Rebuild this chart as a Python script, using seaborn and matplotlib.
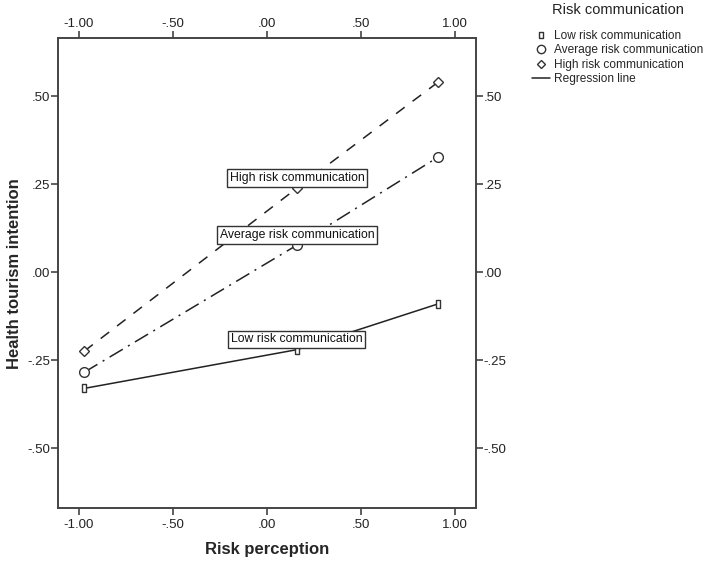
import matplotlib
matplotlib.use("Agg")
import matplotlib.pyplot as plt
import seaborn as sns
import pandas as pd
from matplotlib.lines import Line2D

sns.set_style("white")
plt.rcParams['font.family'] = ['Liberation Sans', 'DejaVu Sans']

risk_perception = [-0.97, 0.16, 0.91]
low_rc = [-0.33, -0.22, -0.09]
avg_rc = [-0.284, 0.077, 0.327]
high_rc = [-0.224, 0.239, 0.54]
series_names = ["Low risk communication", "Average risk communication", "High risk communication"]
tick_values = [-1.0, -0.5, 0.0, 0.5, 1.0]
tick_labels = ["-1.00", "-.50", ".00", ".50", "1.00"]
ytick_values = [-0.5, -0.25, 0.0, 0.25, 0.5]
ytick_labels = ["-.50", "-.25", ".00", ".25", ".50"]

rows = []
for name, vals in zip(series_names, [low_rc, avg_rc, high_rc]):
    for x, y in zip(risk_perception, vals):
        rows.append({"x": x, "y": y, "series": name})
df = pd.DataFrame(rows)

fig = plt.figure(figsize=(7.09, 5.62), dpi=100)
ax = fig.add_axes([0.0818, 0.096, 0.589, 0.836])

rect = [(-0.6, -1), (0.6, -1), (0.6, 1), (-0.6, 1), (-0.6, -1)]
styles = {
    "Low risk communication": dict(ls="-", marker=rect, ms=5.5),
    "Average risk communication": dict(ls=(0, (10, 4, 1.3, 4)), marker="o", ms=7),
    "High risk communication": dict(ls=(0, (7, 6.5)), marker="D", ms=5),
}
lc = "#222222"
for name in series_names:
    sub = df[df.series == name]
    st = styles[name]
    sns.lineplot(data=sub, x="x", y="y", ax=ax, color=lc, lw=1.1,
                 linestyle=st["ls"], marker=st["marker"], markersize=st["ms"],
                 markerfacecolor="white", markeredgecolor="#333333", markeredgewidth=1.0,
                 legend=False)

for name, vals in zip(series_names, [low_rc, avg_rc, high_rc]):
    ax.text(risk_perception[1], vals[1] + 0.029, name, ha="center", va="center",
            fontsize=8.8, color="#111111", zorder=5,
            bbox=dict(boxstyle="square,pad=0.22", fc="white", ec="#333333", lw=1.0))

ax.set_xlim(-1.11, 1.11)
ax.set_ylim(-0.67, 0.665)
ax.set_xticks(tick_values)
ax.set_xticklabels(tick_labels)
ax.set_yticks(ytick_values)
ax.set_yticklabels(ytick_labels)
common = dict(direction="out", length=5, width=1.2, color="#444444",
              labelsize=9.5, labelcolor="#222222")
ax.tick_params(axis="x", pad=3.0, bottom=True, **common)
ax.tick_params(axis="y", pad=0.8, left=True, **common)
for sp in ax.spines.values():
    sp.set_visible(True)
    sp.set_color("#444444")
    sp.set_linewidth(1.4)

top = ax.secondary_xaxis("top")
top.set_xticks(tick_values)
top.set_xticklabels(tick_labels)
top.tick_params(axis="x", pad=1.0, **common)
top.spines["top"].set_visible(False)
right = ax.secondary_yaxis("right")
right.set_yticks(ytick_values)
right.set_yticklabels(ytick_labels)
right.tick_params(axis="y", pad=0.8, **common)
right.spines["right"].set_visible(False)

ax.set_xlabel("Risk perception", fontsize=12, fontweight="bold", labelpad=8)
ax.set_ylabel("Health tourism intention", fontsize=12, fontweight="bold", labelpad=4)

handles = [
    Line2D([], [], ls="none", marker=rect, ms=5, mfc="white", mec="#333333", color=lc),
    Line2D([], [], ls="none", marker="o", ms=6, mfc="white", mec="#333333", color=lc),
    Line2D([], [], ls="none", marker="D", ms=4.5, mfc="white", mec="#333333", color=lc),
    Line2D([], [], ls="-", color=lc, lw=1.1),
]
labels = series_names + ["Regression line"]
fig.text(618 / 709, 1 - 10 / 562, "Risk communication", ha="center", va="center",
         fontsize=10.5, color="#222222")
leg = fig.legend(handles, labels, loc="upper left",
                 bbox_to_anchor=(0.750, 1 - 30 / 562), frameon=False, fontsize=8.6,
                 handlelength=1.5, handletextpad=0.4,
                 labelspacing=0.2, borderpad=0.0, borderaxespad=0.0)

fig.savefig("out.png", dpi=100)
